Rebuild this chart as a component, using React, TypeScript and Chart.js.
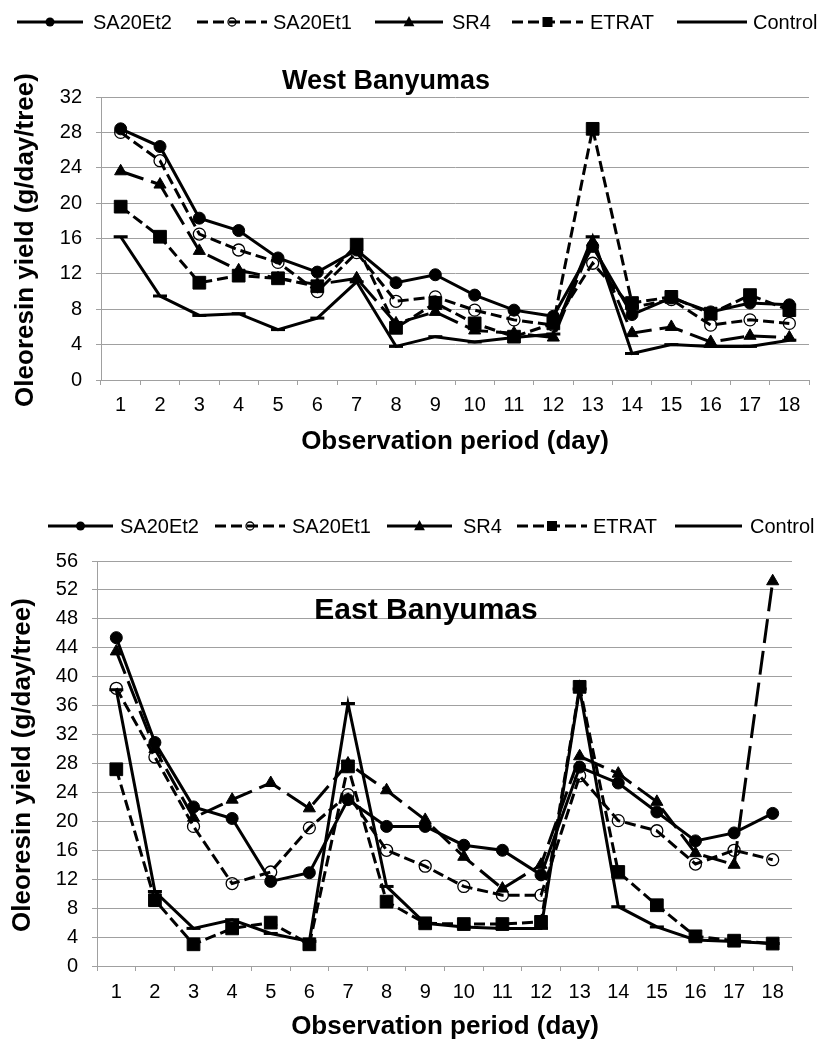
import React, { useEffect, useRef } from "react";
import { Chart, registerables } from "chart.js";

Chart.register(...registerables);

// ---------- DATA ----------
const days = ["1", "2", "3", "4", "5", "6", "7", "8", "9", "10", "11", "12", "13", "14", "15", "16", "17", "18"];
const seriesNames = ["SA20Et2", "SA20Et1", "SR4", "ETRAT", "Control"];

const westSA20Et2 = [28.4, 26.4, 18.3, 16.9, 13.8, 12.2, 14.7, 11.0, 11.9, 9.6, 7.9, 7.2, 15.1, 7.4, 9.3, 7.7, 8.7, 8.5];
const westSA20Et1 = [28.0, 24.8, 16.5, 14.7, 13.3, 10.0, 14.4, 8.9, 9.4, 7.9, 6.8, 6.2, 13.2, 8.2, 9.1, 6.2, 6.8, 6.4];
const westSR4 = [23.6, 22.1, 14.6, 12.4, 11.5, 10.8, 11.5, 6.4, 7.7, 5.6, 5.3, 4.8, 15.6, 5.3, 6.0, 4.3, 5.0, 4.8];
const westETRAT = [19.6, 16.2, 11.0, 11.8, 11.5, 10.6, 15.3, 5.9, 8.7, 6.4, 4.9, 6.4, 28.4, 8.7, 9.4, 7.5, 9.6, 7.9];
const westControl = [16.2, 9.5, 7.3, 7.5, 5.7, 7.0, 11.1, 3.8, 4.9, 4.3, 4.8, 5.2, 16.2, 3.0, 4.0, 3.8, 3.8, 4.5];

const eastSA20Et2 = [45.4, 30.9, 22.0, 20.4, 11.7, 12.9, 23.0, 19.3, 19.3, 16.7, 16.0, 12.6, 27.5, 25.3, 21.3, 17.3, 18.4, 21.1];
const eastSA20Et1 = [38.4, 28.9, 19.3, 11.4, 13.0, 19.1, 23.7, 16.0, 13.8, 11.0, 9.8, 9.8, 26.3, 20.1, 18.7, 14.1, 16.0, 14.7];
const eastSR4 = [43.5, 30.0, 20.5, 23.0, 25.3, 21.8, 28.0, 24.3, 20.2, 15.1, 10.7, 14.0, 29.0, 26.6, 22.7, 15.6, 14.0, 53.2];
const eastETRAT = [27.2, 9.1, 3.0, 5.2, 6.0, 3.0, 27.6, 8.9, 5.9, 5.8, 5.8, 6.1, 38.6, 13.0, 8.4, 4.1, 3.5, 3.1];
const eastControl = [38.2, 10.3, 5.2, 6.4, 4.5, 3.4, 36.3, 11.0, 5.9, 5.4, 5.2, 5.2, 38.3, 8.2, 5.4, 3.6, 3.4, 3.1];

const westYMax = 32;
const eastYMax = 56;
const yStep = 4;

const westTitle = "West Banyumas";
const eastTitle = "East Banyumas";
const yAxisTitle = "Oleoresin yield (g/day/tree)";
const xAxisTitle = "Observation period (day)";

// ---------- STYLES ----------
const FONT = 'Arial, "Liberation Sans", sans-serif';
const GRID = "#a0a0a0";

const seriesStyles = [
  { dash: [] as number[], legendDash: [] as number[], point: "circle", radius: 6, fill: "#000", legendR: 4.5, order: 4 },
  { dash: [11, 5], legendDash: [11, 5], point: "circle", radius: 6, fill: "rgba(255,255,255,0)", legendR: 4, order: 3 },
  { dash: [24, 8], legendDash: [] as number[], point: "triangle", radius: 7, fill: "#000", legendR: 6, order: 2 },
  { dash: [11, 5], legendDash: [11, 5], point: "rect", radius: 9, fill: "#000", legendR: 5, order: 1 },
  { dash: [] as number[], legendDash: [] as number[], point: "line", radius: 7, fill: "#000", legendR: 0, order: 0 },
];

type LegendPos = { x1: number; x2: number; tx: number };
type Panel = {
  top: number;
  height: number;
  area: { l: number; r: number; t: number; b: number };
  yMax: number;
  values: number[][];
  title: string;
  titleFont: number;
  titleX: number;
  titleBase: number;
  legendBase: number;
  legendLineY: number;
  legend: LegendPos[];
  yTitleX: number;
  yTitleY: number;
  xTitleX: number;
  xTitleBase: number;
  xTickPad: number;
};

const panels: Panel[] = [
  {
    top: 0,
    height: 470,
    area: { l: 101, r: 809, t: 97, b: 380 },
    yMax: westYMax,
    values: [westSA20Et2, westSA20Et1, westSR4, westETRAT, westControl],
    title: westTitle,
    titleFont: 27,
    titleX: 386,
    titleBase: 89,
    legendBase: 28.5,
    legendLineY: 22,
    legend: [
      { x1: 17, x2: 83, tx: 93 },
      { x1: 197, x2: 267, tx: 273 },
      { x1: 375, x2: 443, tx: 452 },
      { x1: 512, x2: 583, tx: 590 },
      { x1: 677, x2: 747, tx: 753 },
    ],
    yTitleX: 33,
    yTitleY: 240,
    xTitleX: 455,
    xTitleBase: 449,
    xTickPad: 8,
  },
  {
    top: 500,
    height: 539,
    area: { l: 97, r: 792, t: 61, b: 466 },
    yMax: eastYMax,
    values: [eastSA20Et2, eastSA20Et1, eastSR4, eastETRAT, eastControl],
    title: eastTitle,
    titleFont: 30,
    titleX: 426,
    titleBase: 119,
    legendBase: 33,
    legendLineY: 26,
    legend: [
      { x1: 48, x2: 113, tx: 120 },
      { x1: 215, x2: 285, tx: 292 },
      { x1: 387, x2: 452, tx: 463 },
      { x1: 517, x2: 587, tx: 593 },
      { x1: 675, x2: 742, tx: 750 },
    ],
    yTitleX: 30,
    yTitleY: 265,
    xTitleX: 445,
    xTitleBase: 534,
    xTickPad: 9,
  },
];

function drawMarker(ctx: CanvasRenderingContext2D, kind: string, x: number, y: number, r: number, hollow: boolean) {
  ctx.save();
  ctx.setLineDash([]);
  ctx.fillStyle = "#000";
  ctx.strokeStyle = "#000";
  ctx.beginPath();
  if (kind === "circle") {
    ctx.arc(x, y, r, 0, Math.PI * 2);
    if (hollow) {
      ctx.lineWidth = 1.3;
      ctx.stroke();
    } else {
      ctx.fill();
    }
  } else if (kind === "triangle") {
    ctx.moveTo(x, y - r);
    ctx.lineTo(x + r * 0.9, y + r * 0.7);
    ctx.lineTo(x - r * 0.9, y + r * 0.7);
    ctx.closePath();
    ctx.fill();
  } else if (kind === "rect") {
    ctx.rect(x - r, y - r, 2 * r, 2 * r);
    ctx.fill();
  }
  ctx.restore();
}

function makeOverlay(p: Panel) {
  return {
    id: "overlay",
    afterDraw(chart: any) {
      const ctx: CanvasRenderingContext2D = chart.ctx;
      ctx.save();
      ctx.fillStyle = "#000";
      ctx.strokeStyle = "#000";
      // legend
      ctx.font = `20px ${FONT}`;
      ctx.textAlign = "left";
      ctx.textBaseline = "alphabetic";
      seriesNames.forEach((name, i) => {
        const st = seriesStyles[i];
        const it = p.legend[i];
        ctx.beginPath();
        ctx.lineWidth = 3;
        ctx.setLineDash(st.legendDash);
        ctx.moveTo(it.x1, p.legendLineY);
        ctx.lineTo(it.x2, p.legendLineY);
        ctx.stroke();
        ctx.setLineDash([]);
        if (st.point !== "line") {
          drawMarker(ctx, st.point, (it.x1 + it.x2) / 2, p.legendLineY, st.legendR, i === 1);
        }
        ctx.fillText(name, it.tx, p.legendBase);
      });
      // title
      ctx.font = `bold ${p.titleFont}px ${FONT}`;
      ctx.textAlign = "center";
      ctx.fillText(p.title, p.titleX, p.titleBase);
      // x axis title
      ctx.font = `bold 26px ${FONT}`;
      ctx.fillText(xAxisTitle, p.xTitleX, p.xTitleBase);
      // y axis title
      ctx.translate(p.yTitleX, p.yTitleY);
      ctx.rotate(-Math.PI / 2);
      ctx.fillText(yAxisTitle, 0, 0);
      ctx.restore();
    },
  };
}

function ChartPanel({ p }: { p: Panel }) {
  const ref = useRef<HTMLCanvasElement | null>(null);
  useEffect(() => {
    if (!ref.current) return;
    const datasets = seriesNames.map((name, i) => {
      const st = seriesStyles[i];
      return {
        label: name,
        data: p.values[i],
        borderColor: "#000",
        borderWidth: 3,
        borderDash: st.dash,
        tension: 0,
        fill: false,
        pointStyle: st.point,
        pointRadius: st.radius,
        pointHoverRadius: st.radius,
        pointBackgroundColor: st.fill,
        pointBorderColor: "#000",
        pointBorderWidth: st.point === "line" ? 3 : i === 1 ? 1.3 : 1,
        order: st.order,
      };
    });
    const chart = new Chart(ref.current, {
      type: "line",
      data: { labels: days, datasets },
      options: {
        responsive: false,
        animation: false,
        devicePixelRatio: 1,
        events: [],
        layout: { padding: { left: 0, top: p.area.t, right: 823 - p.area.r, bottom: 0 } },
        plugins: { legend: { display: false }, tooltip: { enabled: false }, title: { display: false } },
        scales: {
          x: {
            type: "category",
            offset: true,
            grid: { display: true, drawOnChartArea: false, drawTicks: true, tickLength: 5, offset: true, color: GRID, lineWidth: 1 },
            border: { display: true, color: GRID, width: 1 },
            ticks: { color: "#000", font: { size: 20, family: FONT }, padding: p.xTickPad, maxRotation: 0, autoSkip: false },
            afterFit: (s: any) => {
              s.height = p.height - p.area.b;
            },
          },
          y: {
            type: "linear",
            min: 0,
            max: p.yMax,
            grid: { display: true, drawOnChartArea: true, drawTicks: true, tickLength: 5, color: GRID, lineWidth: 1 },
            border: { display: true, color: GRID, width: 1 },
            ticks: { stepSize: yStep, color: "#000", font: { size: 20, family: FONT }, padding: 14 },
            afterFit: (s: any) => {
              s.width = p.area.l;
            },
          },
        },
      } as any,
      plugins: [makeOverlay(p)],
    });
    return () => chart.destroy();
  }, [p]);
  return (
    <canvas
      ref={ref}
      width={823}
      height={p.height}
      style={{ position: "absolute", left: 0, top: p.top, width: 823, height: p.height }}
    />
  );
}

export default function App() {
  return (
    <div style={{ position: "absolute", left: 0, top: 0, width: 823, height: 1039, background: "#fff", overflow: "hidden" }}>
      {panels.map((p, i) => (
        <ChartPanel key={i} p={p} />
      ))}
    </div>
  );
}
